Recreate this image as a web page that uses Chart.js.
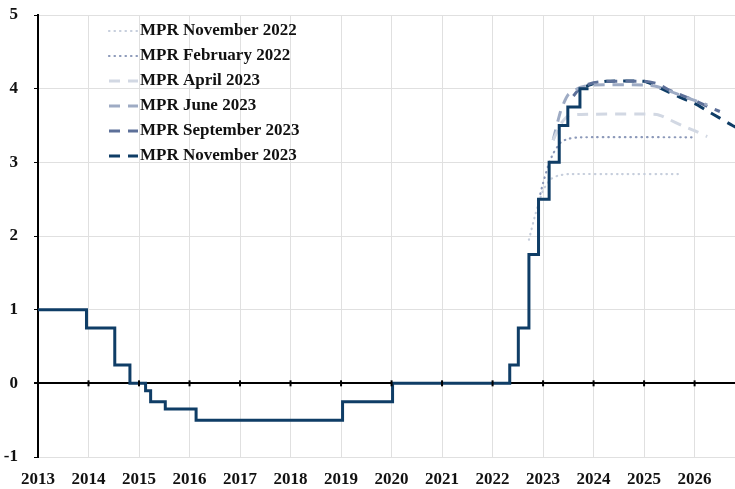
<!DOCTYPE html>
<html>
<head>
<meta charset="utf-8">
<script src="https://cdn.jsdelivr.net/npm/chart.js@4"></script>
<style>
  body { margin: 0; background: #fff; }
  #wrap { width: 735px; height: 489px; }
</style>
</head>
<body>
<div id="wrap"><canvas id="chart" width="735" height="489"></canvas></div>
<script>
// Policy rate outcome (step changes) and MPR forecast paths, per cent
const years = [2013, 2014, 2015, 2016, 2017, 2018, 2019, 2020, 2021, 2022, 2023, 2024, 2025, 2026];
const yTicks = [-1, 0, 1, 2, 3, 4, 5];

const outcomeDates = [2013.0, 2013.96, 2014.52, 2014.82, 2015.13, 2015.23, 2015.52, 2016.13, 2019.03, 2020.02,
                      2022.34, 2022.51, 2022.72, 2022.91, 2023.12, 2023.32, 2023.49, 2023.73, 2023.9];
const outcomeRates = [1.0, 0.75, 0.25, 0.0, -0.10, -0.25, -0.35, -0.50, -0.25, 0.0,
                      0.25, 0.75, 1.75, 2.5, 3.0, 3.5, 3.75, 4.0, 4.0];

const nov22Dates = [2022.72, 2022.85, 2023.0, 2023.15, 2023.3, 2023.5, 2024.5, 2025.67];
const nov22Rates = [1.95, 2.3, 2.62, 2.77, 2.82, 2.84, 2.84, 2.84];

const feb23Dates = [2022.92, 2023.0, 2023.1, 2023.2, 2023.35, 2023.5, 2023.75, 2026.0];
const feb23Rates = [2.5, 2.72, 2.95, 3.12, 3.27, 3.32, 3.34, 3.34];

const apr23Dates = [2023.2, 2023.35, 2023.5, 2023.75, 2025.25, 2025.5, 2025.75, 2026.0, 2026.25];
const apr23Rates = [3.3, 3.52, 3.63, 3.65, 3.65, 3.58, 3.5, 3.43, 3.35];

const jun23Dates = [2023.2, 2023.35, 2023.5, 2023.75, 2024.0, 2025.0, 2025.25, 2025.5, 2025.75, 2026.0, 2026.25];
const jun23Rates = [3.3, 3.7, 3.92, 4.02, 4.05, 4.05, 4.03, 3.97, 3.9, 3.84, 3.78];

const sep23Dates = [2023.6, 2023.75, 2024.0, 2024.25, 2025.0, 2025.25, 2025.5, 2025.75, 2026.0, 2026.25, 2026.5];
const sep23Rates = [3.9, 4.02, 4.08, 4.1, 4.1, 4.07, 3.98, 3.91, 3.84, 3.76, 3.69];

const nov23Dates = [2023.85, 2024.0, 2024.25, 2025.0, 2025.25, 2025.5, 2025.75, 2026.0, 2026.25, 2026.5, 2026.75, 2027.0];
const nov23Rates = [4.03, 4.07, 4.1, 4.1, 4.03, 3.95, 3.87, 3.8, 3.7, 3.6, 3.5, 3.42];

const navy = '#0f3d66';

function points(xs, ys) {
    return xs.map((x, i) => ({ x: x, y: ys[i] }));
}

function forecast(label, xs, ys, color, dash) {
    return {
        label: label,
        data: points(xs, ys),
        borderColor: color,
        borderWidth: dash[0] < 2 ? 2.2 : 3,
        borderDash: dash,
        borderCapStyle: dash[0] < 2 ? 'round' : 'butt',
        pointRadius: 0,
        fill: false,
        tension: 0.2
    };
}

const dotted = [0.5, 5];
const dashed = [11, 8];

// Legend drawn inside the plot area, no box
const innerLegend = {
    id: 'innerLegend',
    afterDraw(chart) {
        const ctx = chart.ctx;
        ctx.save();
        ctx.font = 'bold 17px "Liberation Serif", "Times New Roman", serif';
        ctx.textBaseline = 'middle';
        ctx.fillStyle = '#111';
        let y = 31;
        chart.data.datasets.forEach(ds => {
            if (!ds.inLegend) return;
            ctx.beginPath();
            ctx.strokeStyle = ds.borderColor;
            ctx.lineWidth = ds.borderWidth;
            ctx.lineCap = ds.borderCapStyle;
            ctx.setLineDash(ds.borderDash);
            ctx.moveTo(109, y);
            ctx.lineTo(138, y);
            ctx.stroke();
            ctx.setLineDash([]);
            ctx.fillText(ds.label, 140, y);
            y += 25;
        });
        ctx.restore();
    }
};

// Black zero line tick marks at each year
const zeroTicks = {
    id: 'zeroTicks',
    afterDatasetsDraw(chart) {
        const ctx = chart.ctx;
        const xs = chart.scales.x, ys = chart.scales.y;
        const y0 = ys.getPixelForValue(0);
        ctx.save();
        ctx.strokeStyle = '#000';
        ctx.lineWidth = 2;
        years.forEach(yr => {
            const px = xs.getPixelForValue(yr);
            ctx.beginPath();
            ctx.moveTo(px, y0 - 3);
            ctx.lineTo(px, y0 + 3);
            ctx.stroke();
        });
        ctx.restore();
    }
};

Chart.defaults.font.family = '"Liberation Serif", "Times New Roman", serif';
Chart.defaults.font.weight = 'bold';
Chart.defaults.font.size = 17;
Chart.defaults.color = '#111';

const datasets = [
    {
        label: 'Outcome',
        data: points(outcomeDates, outcomeRates),
        borderColor: navy,
        borderWidth: 3,
        stepped: true,
        pointRadius: 0,
        fill: false
    },
    forecast('MPR November 2022', nov22Dates, nov22Rates, '#c6cedc', dotted),
    forecast('MPR February 2022', feb23Dates, feb23Rates, '#8c99b9', dotted),
    forecast('MPR April 2023', apr23Dates, apr23Rates, '#d2d8e3', dashed),
    forecast('MPR June 2023', jun23Dates, jun23Rates, '#9eabc4', dashed),
    forecast('MPR September 2023', sep23Dates, sep23Rates, '#5d7099', dashed),
    forecast('MPR November 2023', nov23Dates, nov23Rates, navy, dashed)
];
datasets.forEach((ds, i) => { ds.inLegend = i > 0; });

new Chart(document.getElementById('chart'), {
    type: 'line',
    data: { datasets: datasets },
    options: {
        responsive: false,
        maintainAspectRatio: false,
        animation: false,
        layout: { padding: { top: 15, right: 0, left: 0, bottom: 0 } },
        plugins: {
            legend: { display: false },
            tooltip: { enabled: false }
        },
        scales: {
            x: {
                type: 'linear',
                min: 2013,
                max: 2026.8,
                afterBuildTicks: scale => { scale.ticks = years.map(v => ({ value: v })); },
                afterFit: scale => { scale.height = 32; },
                ticks: {
                    padding: 12,
                    maxRotation: 0,
                    autoSkip: false,
                    callback: v => String(v)
                },
                grid: { color: '#e0e0e0', lineWidth: 1, drawTicks: false },
                border: { display: false }
            },
            y: {
                min: -1,
                max: 5,
                afterBuildTicks: scale => { scale.ticks = yTicks.map(v => ({ value: v })); },
                afterFit: scale => {
                    scale.width = 38;
                    scale.paddingTop = 0;
                    scale.paddingBottom = 0;
                },
                ticks: { padding: 16 },
                grid: {
                    color: c => c.tick && c.tick.value === 0 ? '#000' : '#e0e0e0',
                    lineWidth: c => c.tick && c.tick.value === 0 ? 2 : 1,
                    tickColor: '#000',
                    tickLength: 4
                },
                border: { color: '#000', width: 2 }
            }
        }
    },
    plugins: [innerLegend, zeroTicks]
});
</script>
</body>
</html>
